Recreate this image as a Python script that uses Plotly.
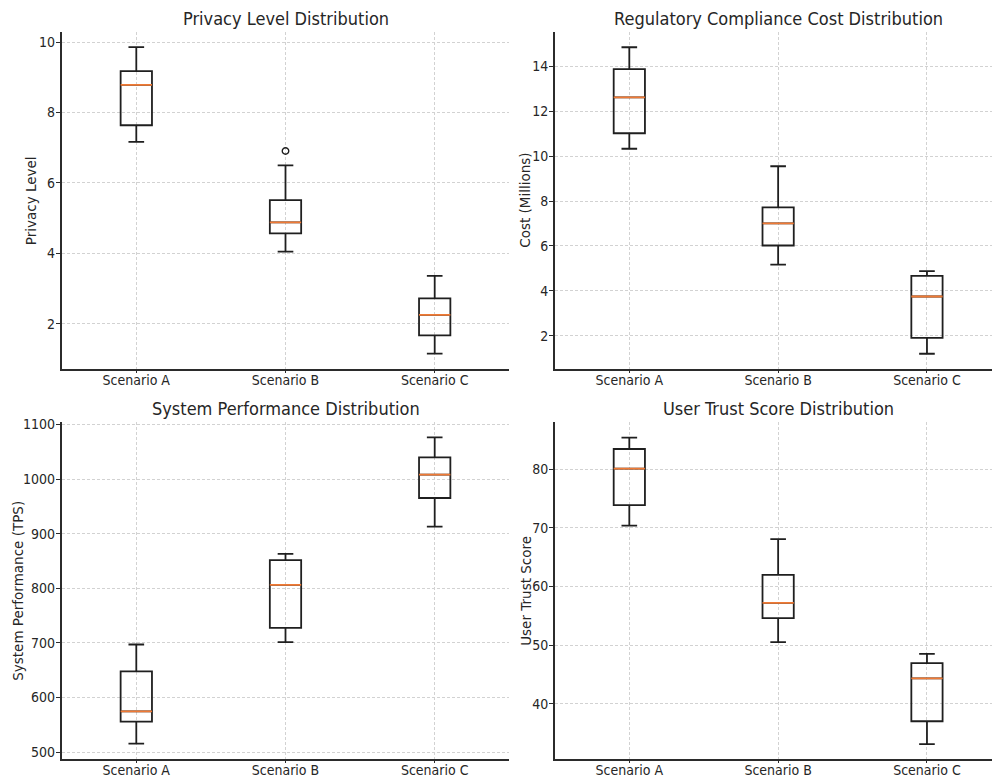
import plotly.graph_objects as go

# ---------------- data ----------------
scenarios = ["Scenario A", "Scenario B", "Scenario C"]

privacy_low = [7.17, 4.05, 1.15]
privacy_q1 = [7.64, 4.57, 1.67]
privacy_median = [8.79, 4.88, 2.25]
privacy_q3 = [9.18, 5.51, 2.72]
privacy_high = [9.86, 6.50, 3.36]
privacy_outlier_x = ["Scenario B"]
privacy_outlier_y = [6.91]

cost_low = [10.33, 5.17, 1.20]
cost_q1 = [11.02, 6.02, 1.91]
cost_median = [12.62, 7.01, 3.75]
cost_q3 = [13.88, 7.72, 4.67]
cost_high = [14.85, 9.55, 4.88]

perf_low = [515.2, 701.3, 912.8]
perf_q1 = [555.5, 727.5, 965.2]
perf_median = [574.3, 806.2, 1007.9]
perf_q3 = [647.7, 851.3, 1039.6]
perf_high = [696.9, 863.0, 1076.3]

trust_low = [70.4, 50.5, 33.1]
trust_q1 = [73.87, 54.6, 37.0]
trust_median = [80.1, 57.2, 44.33]
trust_q3 = [83.46, 61.98, 46.93]
trust_high = [85.4, 68.07, 48.5]

titles = ["Privacy Level Distribution", "Regulatory Compliance Cost Distribution",
          "System Performance Distribution", "User Trust Score Distribution"]
ylabels = ["Privacy Level", "Cost (Millions)", "System Performance (TPS)", "User Trust Score"]

# ---------------- layout helpers ----------------
W, H = 992, 778
COND = "DejaVu Sans Condensed, Liberation Sans Narrow, DejaVu Sans, sans-serif"
NORMAL = "DejaVu Sans, sans-serif"
TXT = "#262626"
BOX = "#1f1f1f"
MED = "#f07a35"

panels = [
    dict(low=privacy_low, q1=privacy_q1, med=privacy_median, q3=privacy_q3, high=privacy_high,
         ox=privacy_outlier_x, oy=privacy_outlier_y,
         xd=[61.7, 509.3], yd=[32, 369], xr=[-0.5, 2.5], yr=[0.714, 10.29], dtick=2, tick0=0,
         title_x=285.7, title_y=19, ylab_x=31.7),
    dict(low=cost_low, q1=cost_q1, med=cost_median, q3=cost_q3, high=cost_high,
         ox=[], oy=[],
         xd=[554.9, 992], yd=[32, 369], xr=[-0.5, 2.437], yr=[0.52, 15.53], dtick=2, tick0=0,
         title_x=778.2, title_y=19, ylab_x=525.3),
    dict(low=perf_low, q1=perf_q1, med=perf_median, q3=perf_q3, high=perf_high,
         ox=[], oy=[],
         xd=[61.7, 509.3], yd=[422, 759], xr=[-0.5, 2.5], yr=[487.2, 1104.4], dtick=100, tick0=0,
         title_x=285.7, title_y=408.3, ylab_x=17.3),
    dict(low=trust_low, q1=trust_q1, med=trust_median, q3=trust_q3, high=trust_high,
         ox=[], oy=[],
         xd=[554.9, 992], yd=[422, 759], xr=[-0.5, 2.437], yr=[30.56, 88.07], dtick=10, tick0=0,
         title_x=778.2, title_y=408.3, ylab_x=525.3),
]

fig = go.Figure()
annotations = []
layout_axes = {}

for i, p in enumerate(panels):
    n = "" if i == 0 else str(i + 1)
    xa, ya = "x" + n, "y" + n

    # main box (black outline, no fill)
    fig.add_trace(go.Box(
        x=scenarios, q1=p["q1"], median=p["med"], q3=p["q3"],
        lowerfence=p["low"], upperfence=p["high"],
        xaxis=xa, yaxis=ya, boxpoints=False,
        line=dict(color=BOX, width=1.8), fillcolor="rgba(0,0,0,0)",
        whiskerwidth=0.5, hoverinfo="skip", showlegend=False,
    ))
    # orange median line overlay
    fig.add_trace(go.Box(
        x=scenarios, q1=p["med"], median=p["med"], q3=p["med"],
        lowerfence=p["med"], upperfence=p["med"],
        xaxis=xa, yaxis=ya, boxpoints=False,
        line=dict(color=MED, width=1.8), fillcolor="rgba(0,0,0,0)",
        whiskerwidth=0, hoverinfo="skip", showlegend=False,
    ))
    if p["ox"]:
        fig.add_trace(go.Scatter(
            x=p["ox"], y=p["oy"], mode="markers", xaxis=xa, yaxis=ya,
            marker=dict(symbol="circle-open", size=6.5, color=BOX, line=dict(width=1.4, color=BOX)),
            hoverinfo="skip", showlegend=False,
        ))

    common = dict(
        showline=True, linecolor="#2b2b2b", linewidth=1.6, mirror=False,
        showgrid=True, gridcolor="#d2d2d2", gridwidth=0.8, griddash="3px,2px",
        ticks="outside", ticklen=4, tickwidth=1, tickcolor="#2b2b2b",
        zeroline=False, tickfont=dict(family=COND, size=14, color=TXT),
        fixedrange=True, automargin=False,
    )
    layout_axes["xaxis" + n] = dict(
        common, type="category", categoryorder="array", categoryarray=scenarios,
        domain=[p["xd"][0] / W, p["xd"][1] / W], range=p["xr"], anchor=ya,
        ticklen=2, ticklabelstandoff=-5,
    )
    layout_axes["yaxis" + n] = dict(
        common, domain=[1 - p["yd"][1] / H, 1 - p["yd"][0] / H], range=p["yr"],
        tickmode="linear", tick0=p["tick0"], dtick=p["dtick"], anchor=xa,
        ticklabelstandoff=-2,
    )

    annotations.append(dict(
        text=titles[i], xref="paper", yref="paper",
        x=p["title_x"] / W, y=1 - p["title_y"] / H, xanchor="center", yanchor="middle",
        showarrow=False, font=dict(family=COND, size=18, color=TXT),
    ))
    annotations.append(dict(
        text=ylabels[i], xref="paper", yref="paper", textangle=-90,
        x=p["ylab_x"] / W, y=1 - (p["yd"][0] + p["yd"][1]) / 2 / H,
        xanchor="center", yanchor="middle",
        showarrow=False, font=dict(family=NORMAL, size=13.5, color=TXT),
    ))

fig.update_layout(
    template="none",
    width=W, height=H,
    margin=dict(l=0, r=0, t=0, b=0, pad=0, autoexpand=False),
    paper_bgcolor="white", plot_bgcolor="white",
    boxmode="overlay", boxgap=0.7,
    showlegend=False,
    annotations=annotations,
    **layout_axes,
)

fig.write_html(
    "out.html",
    config={"displayModeBar": False},
    post_script="document.body.style.margin='0';document.body.style.overflow='hidden';",
)
